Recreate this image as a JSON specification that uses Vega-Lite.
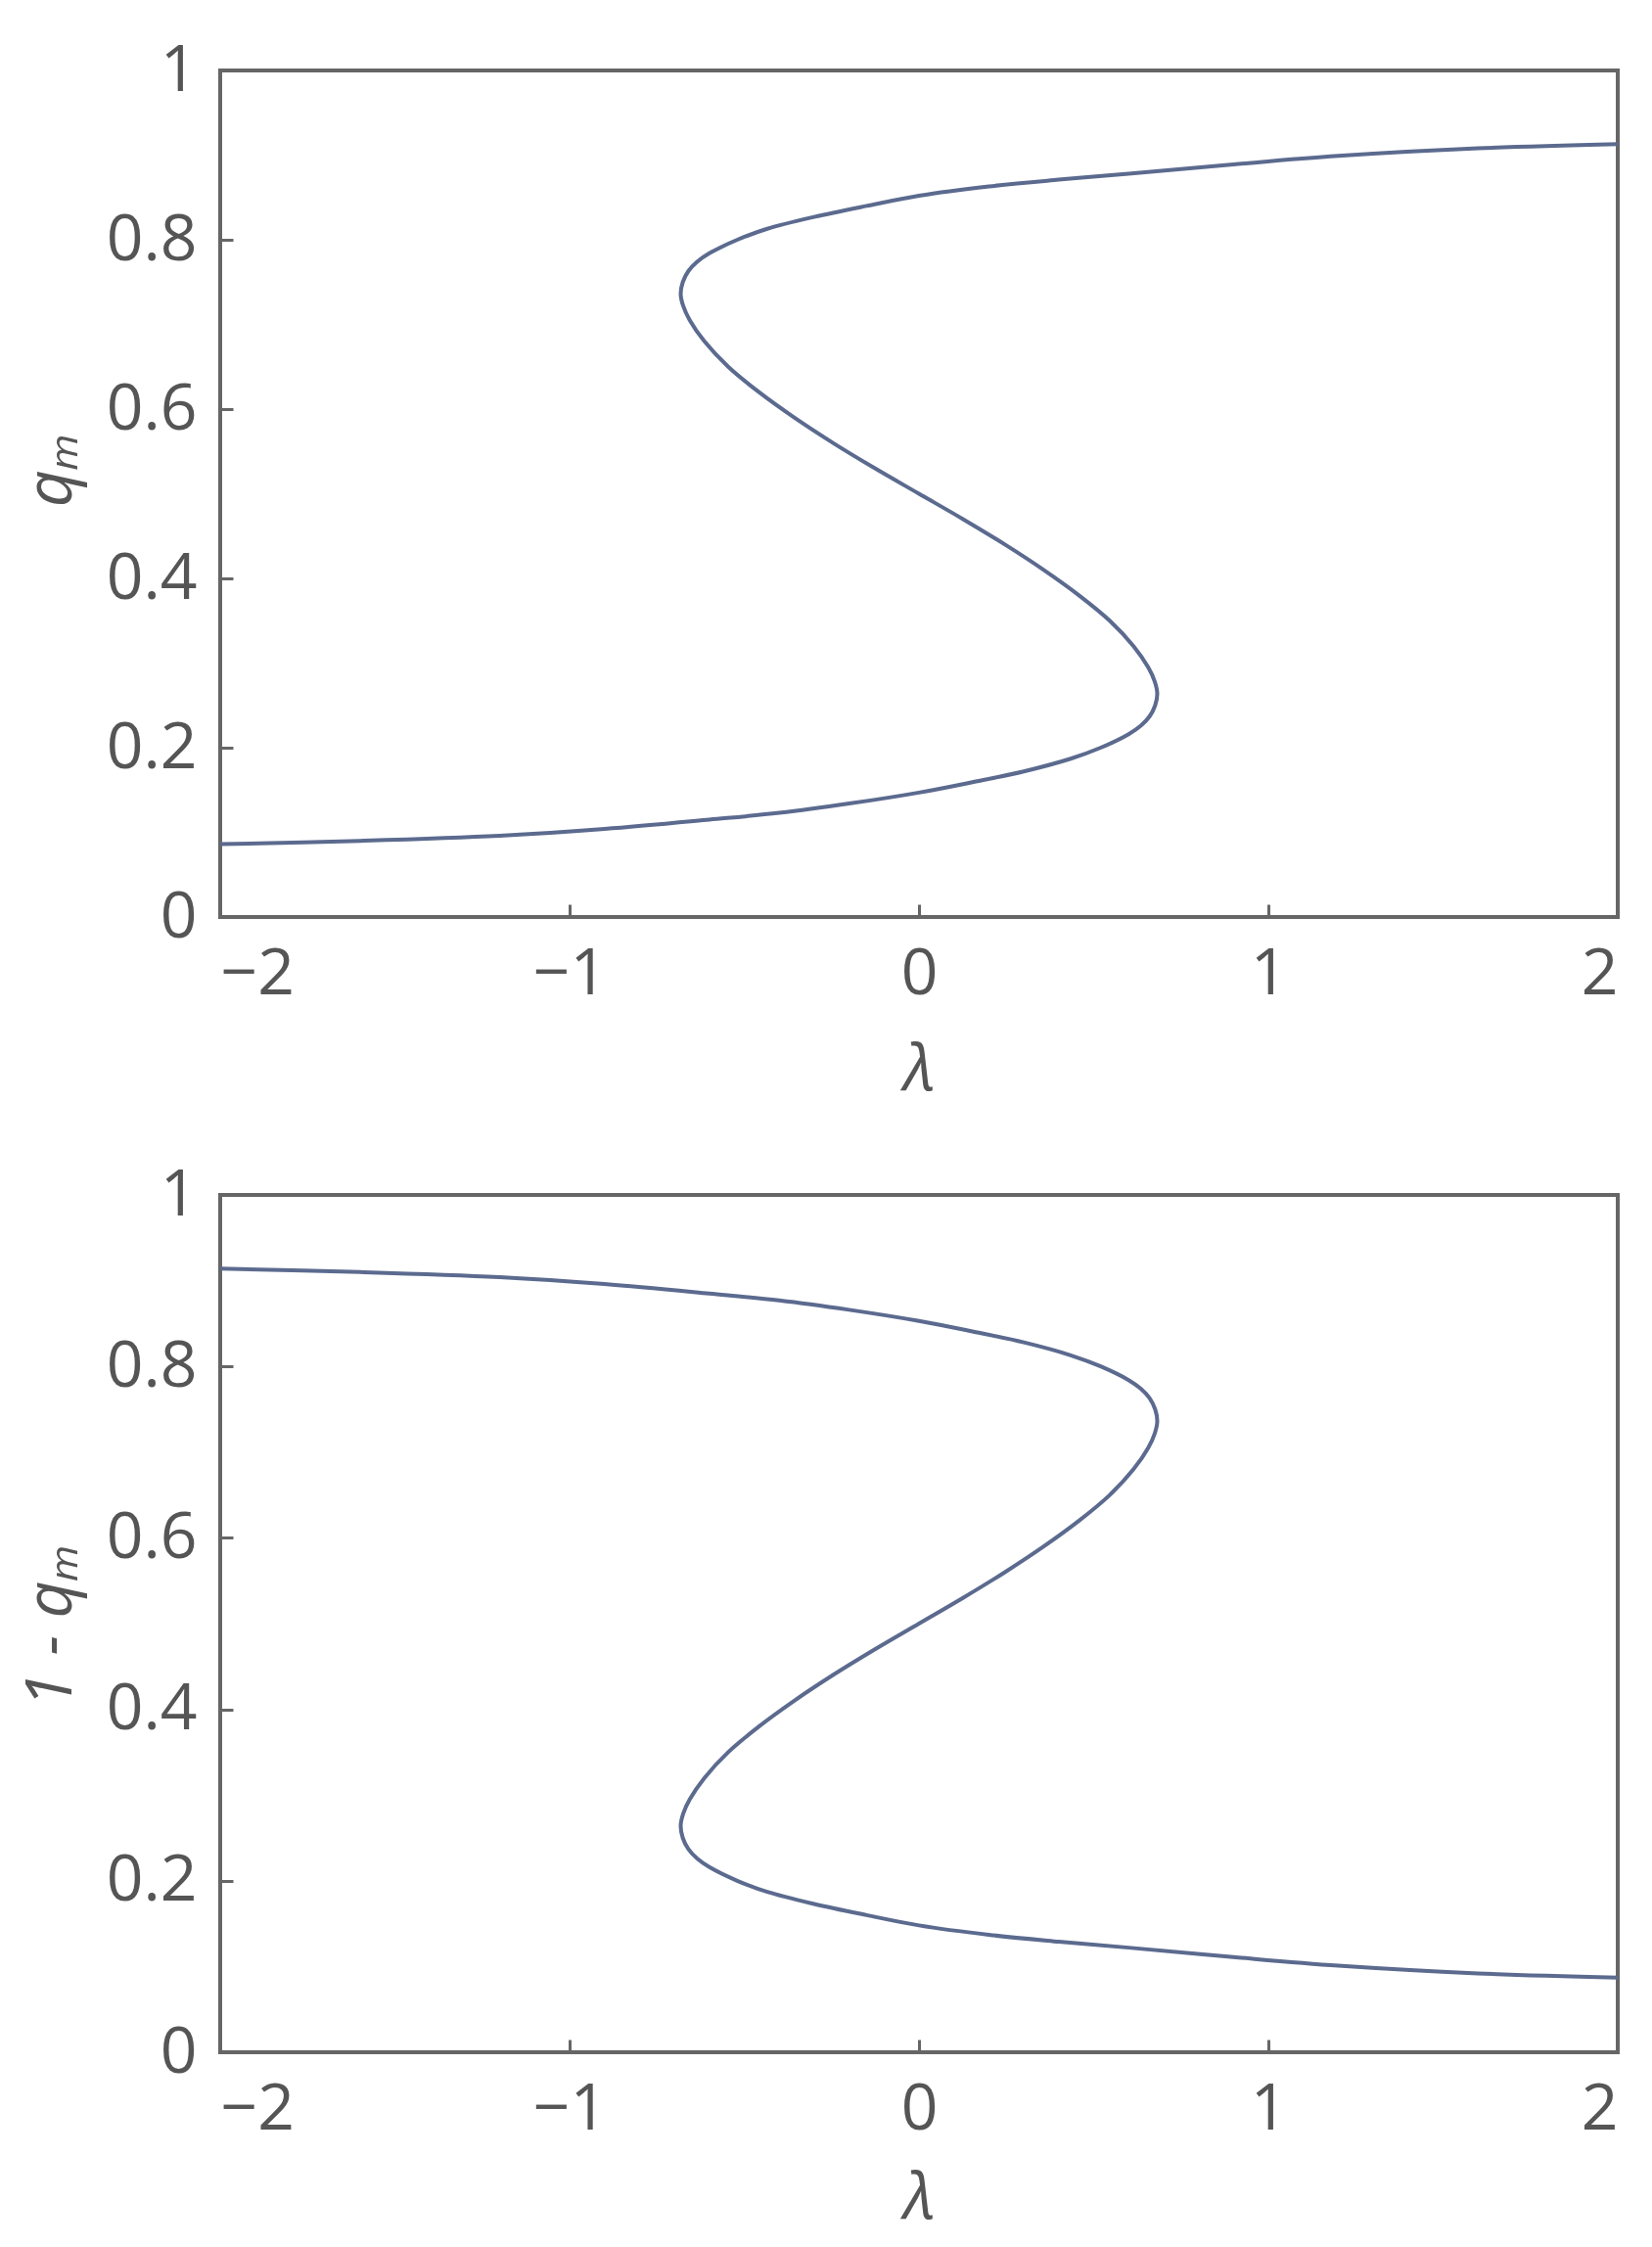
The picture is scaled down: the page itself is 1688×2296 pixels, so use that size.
{
  "$schema": "https://vega.github.io/schema/vega-lite/v6.json",
  "autosize": {"type": "pad"},
  "padding": {"left": 17, "top": 37, "right": 10, "bottom": 18},
  "background": "white",
  "spacing": 284,
  "bounds": "flush",
  "datasets": {
    "curve": [
      {"i": 0, "lambda": -2.0, "q": 0.086, "p": 0.914},
      {"i": 1, "lambda": -1.6, "q": 0.09, "p": 0.91},
      {"i": 2, "lambda": -1.2, "q": 0.096, "p": 0.904},
      {"i": 3, "lambda": -0.9, "q": 0.104, "p": 0.896},
      {"i": 4, "lambda": -0.6, "q": 0.115, "p": 0.885},
      {"i": 5, "lambda": -0.4, "q": 0.123, "p": 0.877},
      {"i": 6, "lambda": -0.2, "q": 0.134, "p": 0.866},
      {"i": 7, "lambda": 0.0, "q": 0.147, "p": 0.853},
      {"i": 8, "lambda": 0.15, "q": 0.159, "p": 0.841},
      {"i": 9, "lambda": 0.3, "q": 0.172, "p": 0.828},
      {"i": 10, "lambda": 0.434, "q": 0.187, "p": 0.813},
      {"i": 11, "lambda": 0.52, "q": 0.2, "p": 0.8},
      {"i": 12, "lambda": 0.6, "q": 0.216, "p": 0.784},
      {"i": 13, "lambda": 0.635, "q": 0.226, "p": 0.774},
      {"i": 14, "lambda": 0.66, "q": 0.237, "p": 0.763},
      {"i": 15, "lambda": 0.676, "q": 0.25, "p": 0.75},
      {"i": 16, "lambda": 0.682, "q": 0.264, "p": 0.736},
      {"i": 17, "lambda": 0.675, "q": 0.278, "p": 0.722},
      {"i": 18, "lambda": 0.656, "q": 0.295, "p": 0.705},
      {"i": 19, "lambda": 0.614, "q": 0.32, "p": 0.68},
      {"i": 20, "lambda": 0.546, "q": 0.35, "p": 0.65},
      {"i": 21, "lambda": 0.458, "q": 0.38, "p": 0.62},
      {"i": 22, "lambda": 0.357, "q": 0.41, "p": 0.59},
      {"i": 23, "lambda": 0.246, "q": 0.44, "p": 0.56},
      {"i": 24, "lambda": 0.126, "q": 0.47, "p": 0.53},
      {"i": 25, "lambda": 0.0, "q": 0.5, "p": 0.5},
      {"i": 26, "lambda": -0.126, "q": 0.53, "p": 0.47},
      {"i": 27, "lambda": -0.246, "q": 0.56, "p": 0.44},
      {"i": 28, "lambda": -0.357, "q": 0.59, "p": 0.41},
      {"i": 29, "lambda": -0.458, "q": 0.62, "p": 0.38},
      {"i": 30, "lambda": -0.546, "q": 0.65, "p": 0.35},
      {"i": 31, "lambda": -0.614, "q": 0.68, "p": 0.32},
      {"i": 32, "lambda": -0.656, "q": 0.705, "p": 0.295},
      {"i": 33, "lambda": -0.675, "q": 0.722, "p": 0.278},
      {"i": 34, "lambda": -0.682, "q": 0.736, "p": 0.264},
      {"i": 35, "lambda": -0.676, "q": 0.75, "p": 0.25},
      {"i": 36, "lambda": -0.66, "q": 0.763, "p": 0.237},
      {"i": 37, "lambda": -0.635, "q": 0.774, "p": 0.226},
      {"i": 38, "lambda": -0.6, "q": 0.784, "p": 0.216},
      {"i": 39, "lambda": -0.52, "q": 0.8, "p": 0.2},
      {"i": 40, "lambda": -0.434, "q": 0.813, "p": 0.187},
      {"i": 41, "lambda": -0.3, "q": 0.827, "p": 0.173},
      {"i": 42, "lambda": -0.15, "q": 0.84, "p": 0.16},
      {"i": 43, "lambda": 0.0, "q": 0.852, "p": 0.148},
      {"i": 44, "lambda": 0.2, "q": 0.863, "p": 0.137},
      {"i": 45, "lambda": 0.4, "q": 0.871, "p": 0.129},
      {"i": 46, "lambda": 0.6, "q": 0.878, "p": 0.122},
      {"i": 47, "lambda": 0.9, "q": 0.889, "p": 0.111},
      {"i": 48, "lambda": 1.2, "q": 0.899, "p": 0.101},
      {"i": 49, "lambda": 1.6, "q": 0.908, "p": 0.092},
      {"i": 50, "lambda": 2.0, "q": 0.913, "p": 0.087}
    ]
  },
  "config": {
    "view": {"stroke": "#666666", "strokeWidth": 4},
    "axis": {
      "domain": false,
      "grid": false,
      "tickColor": "#666666",
      "tickWidth": 3,
      "tickSize": -13,
      "labelFont": "Open Sans",
      "labelFontSize": 66,
      "labelColor": "#555555",
      "titleFont": "Open Sans",
      "titleFontSize": 66,
      "titleColor": "#555555",
      "titleFontWeight": "normal",
      "titleFontStyle": "italic"
    }
  },
  "vconcat": [
    {
      "width": 1428,
      "height": 865,
      "data": {"name": "curve"},
      "mark": {"type": "line", "color": "#5b6a8e", "strokeWidth": 4, "interpolate": "catmull-rom", "clip": true},
      "encoding": {
        "x": {"field": "lambda", "type": "quantitative", "scale": {"domain": [-2, 2], "nice": false, "zero": false},
              "axis": {"values": [-2, -1, 0, 1, 2], "format": "d", "title": "λ", "labelPadding": 39, "titlePadding": 33}},
        "y": {"field": "q", "type": "quantitative", "scale": {"domain": [0, 1], "nice": false, "zero": false},
              "axis": {"values": [0, 0.2, 0.4, 0.6, 0.8, 1], "format": "~g", "title": "qₘ", "labelPadding": 37, "titlePadding": 22, "titleY": 406}},
        "order": {"field": "i", "type": "quantitative"}
      }
    },
    {
      "width": 1428,
      "height": 876,
      "data": {"name": "curve"},
      "mark": {"type": "line", "color": "#5b6a8e", "strokeWidth": 4, "interpolate": "catmull-rom", "clip": true},
      "encoding": {
        "x": {"field": "lambda", "type": "quantitative", "scale": {"domain": [-2, 2], "nice": false, "zero": false},
              "axis": {"values": [-2, -1, 0, 1, 2], "format": "d", "title": "λ", "labelPadding": 39, "titlePadding": 26}},
        "y": {"field": "p", "type": "quantitative", "scale": {"domain": [0, 1], "nice": false, "zero": false},
              "axis": {"values": [0, 0.2, 0.4, 0.6, 0.8, 1], "format": "~g", "title": "1 - qₘ", "labelPadding": 37, "titlePadding": 22}},
        "order": {"field": "i", "type": "quantitative"}
      }
    }
  ]
}
